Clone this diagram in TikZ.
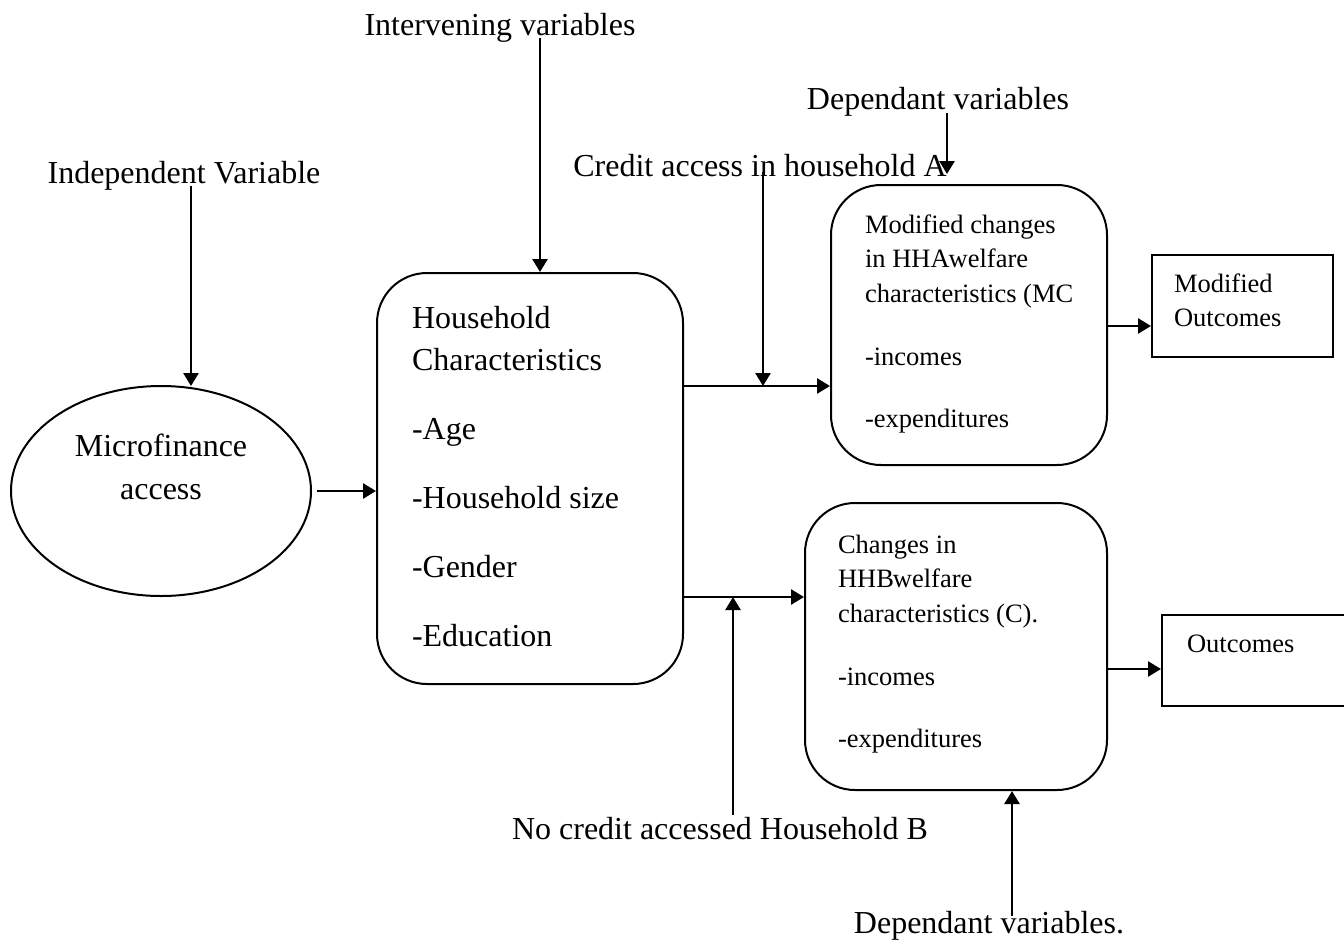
\documentclass[tikz,border=0pt]{standalone}
\usepackage{fontspec}
\setmainfont{Liberation Serif}
\usetikzlibrary{shapes.geometric,arrows.meta}
\begin{document}
\begin{tikzpicture}[x=1pt,y=-1pt,line width=2pt,
  arr/.style={line width=2.6pt,-{Triangle[length=13pt,width=15pt]}},
  big/.style={font=\fontsize{32}{40}\selectfont,inner sep=0pt},
  small/.style={font=\fontsize{26.5}{34}\selectfont,inner sep=0pt},
  rbox/.style={draw,rounded corners=50pt,inner sep=0pt},
  sbox/.style={draw,inner sep=0pt}]
\useasboundingbox (0,0) rectangle (1344,940);

% shapes
\node[draw,ellipse,minimum width=300,minimum height=210,inner sep=0pt] (mf) at (161,491) {};
\node[rbox,minimum width=306,minimum height=411] (hh) at (530,478.5) {};
\node[rbox,minimum width=276,minimum height=280] (mc) at (969,325) {};
\node[rbox,minimum width=302,minimum height=287] (cb) at (956,646.5) {};
\node[sbox,minimum width=181,minimum height=102] (mo) at (1242.5,306) {};
\node[sbox,minimum width=185,minimum height=91] (oc) at (1254.5,660.5) {};

% texts inside
\node[big,anchor=base] (mft1) at (161,456) {Microfinance};
\node[big,anchor=base] (mft2) at (161,499) {access};
\foreach \t/\y [count=\i] in {Household/328,Characteristics/370,-Age/439,-Household size/508,-Gender/577,-Education/646}
  \node[big,anchor=base west] (hht\i) at (411,\y) {\t};
\foreach \t/\y [count=\i] in {Modified changes/233,in HHA\hspace{-1pt}welfare/267,characteristics (MC/302,-incomes/365,-expenditures/427}
  \node[small,anchor=base west] (mct\i) at (864,\y) {\t};
\foreach \t/\y [count=\i] in {Changes in/553,HHB\hspace{-1pt}welfare/587,characteristics (C)./622,-incomes/685,-expenditures/747}
  \node[small,anchor=base west] (cbt\i) at (837,\y) {\t};
\node[small,anchor=base west] (mot1) at (1173,292) {Modified};
\node[small,anchor=base west] (mot2) at (1173,326) {Outcomes};
\node[small,anchor=base west] (oct) at (1186,652) {Outcomes};

% labels
\node[big,anchor=base] (indep) at (184,183) {Independent Variable};
\node[big,anchor=base] (interv) at (500,35) {Intervening variables};
\node[big,anchor=base] (dep1) at (938,109) {Dependant variables};
\node[big,anchor=base] (credit) at (760,176) {Credit access in household A};
\node[big,anchor=base] (nocredit) at (720,839) {No credit accessed Household B};
\node[big,anchor=base] (dep2) at (989,933) {Dependant variables.};

% connector coordinates
\coordinate (ia) at (191,186);
\coordinate (ib) at (540,38);
\coordinate (ja) at (763,386);
\coordinate (cs) at (763,172);
\coordinate (da) at (947,113);
\coordinate (db) at (947,174);
\coordinate (jb) at (733,597);
\coordinate (ns) at (733,815);
\coordinate (ea) at (1012,916);

% connectors
\draw[arr] (ia) -- (ia |- 0,386);
\draw[arr] (ib) -- (ib |- hh.north);
\draw[arr] ([xshift=5pt]mf.east) -- (hh.west |- mf.east);
\draw[arr] (hh.east |- ja) -- (mc.west |- ja);
\draw[arr] (cs) -- (ja);
\draw[arr] (da) -- (db);
\draw[arr] (hh.east |- jb) -- (cb.west |- jb);
\draw[arr] (ns) -- (jb);
\draw[arr] (ea) -- (ea |- cb.south);
\draw[arr] (mc.east |- 0,326) -- (mo.west |- 0,326);
\draw[arr] (cb.east |- 0,669) -- (oc.west |- 0,669);
\end{tikzpicture}
\end{document}
